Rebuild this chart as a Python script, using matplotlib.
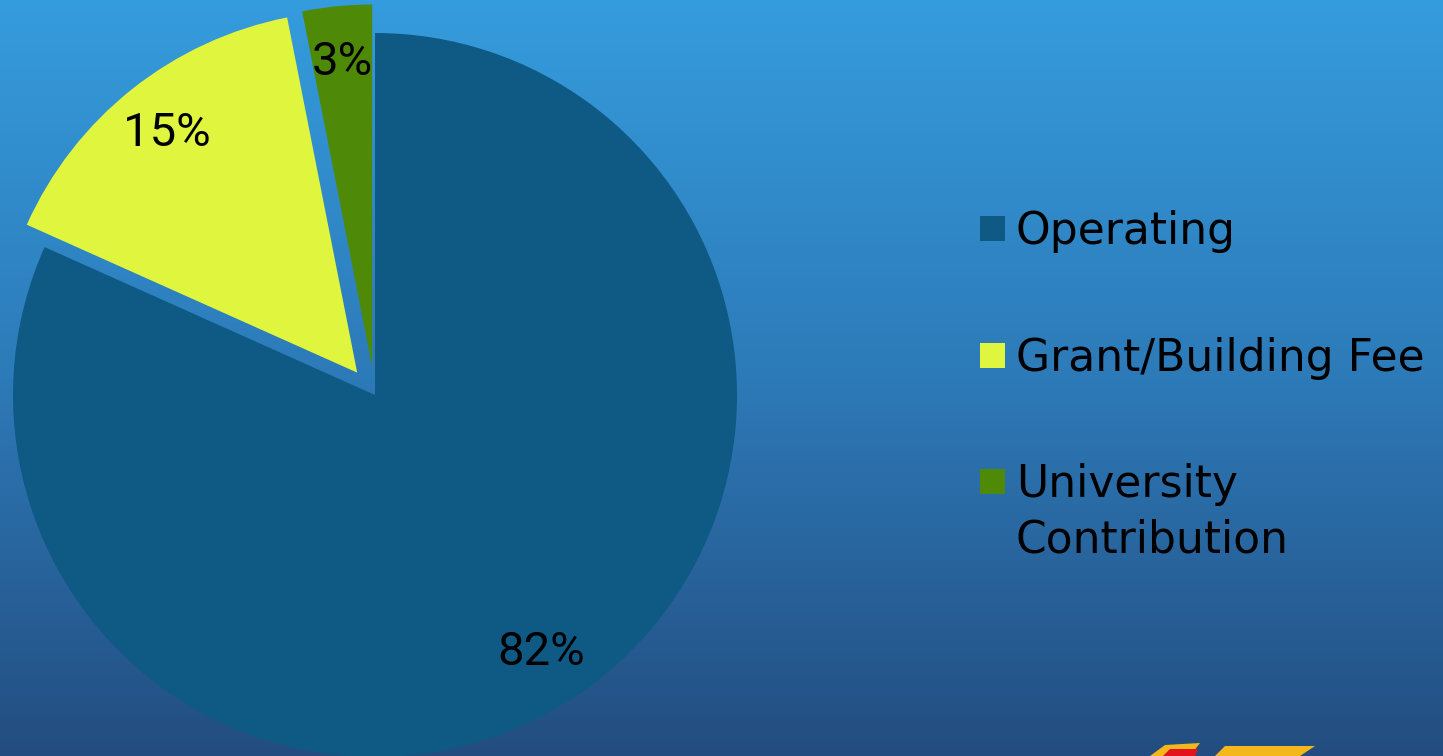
import matplotlib
matplotlib.use("Agg")
import matplotlib.pyplot as plt
import numpy as np
from matplotlib.colors import LinearSegmentedColormap
from matplotlib.patches import Rectangle, Polygon

# data
labels = ["Operating", "Grant/Building Fee", "University\nContribution"]
shares = [81.7, 15.2, 3.1]
colors = ["#0e5a85", "#e0f63e", "#4e8a07"]
explode = [0.0, 0.079, 0.079]

W, H = 1443, 756
fig = plt.figure(figsize=(W / 100, H / 100), dpi=100)

# gradient background
bg = fig.add_axes([0, 0, 1, 1], zorder=0)
grad = LinearSegmentedColormap.from_list("bg", ["#234d80", "#2d7ab8", "#359cdd"])
bg.imshow(np.linspace(0, 1, 256).reshape(-1, 1), cmap=grad, aspect="auto",
          origin="lower", extent=[0, 1, 0, 1])
bg.set_axis_off()

ax = fig.add_axes([0, 0, 1, 1], zorder=1)
ax.patch.set_alpha(0)
r_px = 362
cx, cy = 375, H - 395

wedges, texts, autotexts = ax.pie(
    shares, colors=colors, explode=explode, startangle=90, counterclock=False,
    autopct="%.0f%%", pctdistance=0.845, radius=1.0,
    textprops=dict(fontsize=34, color="black", family=["Roboto", "DejaVu Sans"]),
    wedgeprops=dict(linewidth=0))
for w in wedges:
    w.set_clip_on(False)
ax.set_xlim(-cx / r_px, (W - cx) / r_px)
ax.set_ylim(-cy / r_px, (H - cy) / r_px)
ax.set_axis_off()

# legend, drawn by hand so the square sits on the first line of each label
row0, step, line_h = 228.5, 126.5, 55
for i, (lab, col) in enumerate(zip(labels, colors)):
    yc = row0 + i * step
    fig.patches.append(Rectangle((980 / W, 1 - (yc + 12.5) / H), 25 / W, 25 / H,
                                 transform=fig.transFigure, facecolor=col,
                                 edgecolor="none"))
    for k, line in enumerate(lab.split("\n")):
        fig.text(1016 / W, 1 - (yc + 16 + k * line_h) / H, line, fontsize=31.7,
                 color="black", family="DejaVu Sans", va="baseline", ha="left")

# logo fragment at the bottom edge
logo = [
    [(1150, 756), (1165, 745), (1200, 743), (1190, 756)],
    [(1215, 756), (1225, 746), (1315, 746), (1300, 756)],
]
for pts in logo:
    fig.patches.append(Polygon([(x / W, 1 - y / H) for x, y in pts], closed=True,
                               transform=fig.transFigure, facecolor="#f5b81c",
                               edgecolor="none"))
fig.patches.append(Polygon([(1163 / W, 0), (1170 / W, 1 - 749 / H), (1198 / W, 1 - 749 / H),
                            (1195 / W, 0)], closed=True, transform=fig.transFigure,
                           facecolor="#e3121d", edgecolor="none"))

plt.savefig("out.png", dpi=100)
